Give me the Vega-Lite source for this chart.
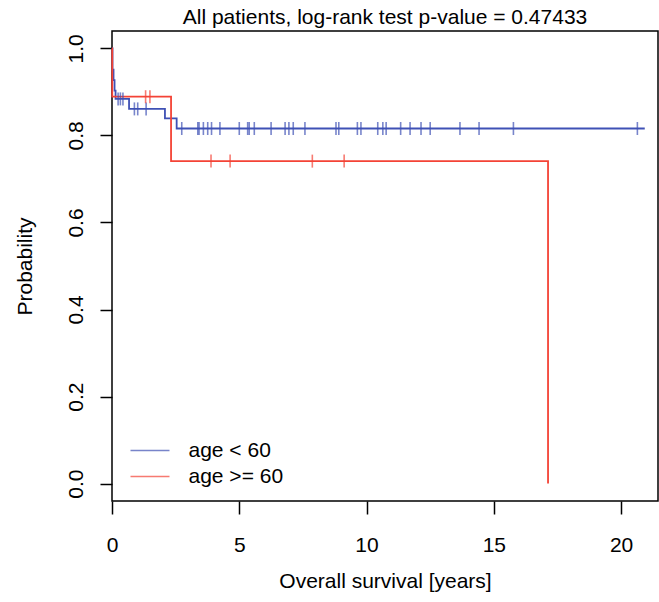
{
  "$schema": "https://vega.github.io/schema/vega-lite/v6.json",
  "autosize": "none",
  "width": 546,
  "height": 470,
  "padding": {"left": 112, "top": 31, "right": 1, "bottom": 101},
  "background": "white",
  "title": {"text": "All patients, log-rank test p-value = 0.47433", "font": "Liberation Sans", "fontSize": 21, "fontWeight": "normal", "color": "black", "anchor": "middle", "offset": 3},
  "config": {
    "view": {"stroke": "black", "strokeWidth": 1.5},
    "axis": {"grid": false, "domain": false, "tickColor": "black", "tickWidth": 1.5, "labelFont": "Liberation Sans", "labelFontSize": 21, "labelColor": "black", "titleFont": "Liberation Sans", "titleFontSize": 21, "titleFontWeight": "normal", "titleColor": "black", "labelFlush": false, "labelOverlap": false, "labelBound": false},
    "legend": {"orient": "none", "legendX": 27.5, "legendY": 409, "padding": 0, "symbolType": "M-2,0H2", "symbolSize": 380, "symbolStrokeWidth": 1.5, "labelFont": "Liberation Sans", "labelFontSize": 21, "labelColor": "black", "labelOffset": 28, "rowPadding": 4}
  },
  "datasets": {
    "curves": [
      {"group": "age < 60", "t": 0, "surv": 1.0},
      {"group": "age < 60", "t": 0.02, "surv": 0.951},
      {"group": "age < 60", "t": 0.06, "surv": 0.927},
      {"group": "age < 60", "t": 0.10, "surv": 0.903},
      {"group": "age < 60", "t": 0.14, "surv": 0.884},
      {"group": "age < 60", "t": 0.67, "surv": 0.861},
      {"group": "age < 60", "t": 2.08, "surv": 0.839},
      {"group": "age < 60", "t": 2.54, "surv": 0.816},
      {"group": "age < 60", "t": 20.93, "surv": 0.816},
      {"group": "age >= 60", "t": 0, "surv": 1.0},
      {"group": "age >= 60", "t": 0.01, "surv": 0.889},
      {"group": "age >= 60", "t": 2.32, "surv": 0.741},
      {"group": "age >= 60", "t": 17.13, "surv": 0.0}
    ],
    "censors": [
      {"group": "age < 60", "t": 0.24, "surv": 0.884},
      {"group": "age < 60", "t": 0.33, "surv": 0.884},
      {"group": "age < 60", "t": 0.43, "surv": 0.884},
      {"group": "age < 60", "t": 0.88, "surv": 0.861},
      {"group": "age < 60", "t": 1.01, "surv": 0.861},
      {"group": "age < 60", "t": 1.34, "surv": 0.861},
      {"group": "age < 60", "t": 2.74, "surv": 0.816},
      {"group": "age < 60", "t": 3.37, "surv": 0.816},
      {"group": "age < 60", "t": 3.42, "surv": 0.816},
      {"group": "age < 60", "t": 3.59, "surv": 0.816},
      {"group": "age < 60", "t": 3.76, "surv": 0.816},
      {"group": "age < 60", "t": 3.91, "surv": 0.816},
      {"group": "age < 60", "t": 4.24, "surv": 0.816},
      {"group": "age < 60", "t": 5.00, "surv": 0.816},
      {"group": "age < 60", "t": 5.33, "surv": 0.816},
      {"group": "age < 60", "t": 5.39, "surv": 0.816},
      {"group": "age < 60", "t": 5.59, "surv": 0.816},
      {"group": "age < 60", "t": 6.25, "surv": 0.816},
      {"group": "age < 60", "t": 6.80, "surv": 0.816},
      {"group": "age < 60", "t": 6.95, "surv": 0.816},
      {"group": "age < 60", "t": 7.12, "surv": 0.816},
      {"group": "age < 60", "t": 7.58, "surv": 0.816},
      {"group": "age < 60", "t": 8.80, "surv": 0.816},
      {"group": "age < 60", "t": 8.91, "surv": 0.816},
      {"group": "age < 60", "t": 9.64, "surv": 0.816},
      {"group": "age < 60", "t": 9.78, "surv": 0.816},
      {"group": "age < 60", "t": 10.44, "surv": 0.816},
      {"group": "age < 60", "t": 10.64, "surv": 0.816},
      {"group": "age < 60", "t": 10.77, "surv": 0.816},
      {"group": "age < 60", "t": 11.34, "surv": 0.816},
      {"group": "age < 60", "t": 11.71, "surv": 0.816},
      {"group": "age < 60", "t": 12.14, "surv": 0.816},
      {"group": "age < 60", "t": 12.50, "surv": 0.816},
      {"group": "age < 60", "t": 13.67, "surv": 0.816},
      {"group": "age < 60", "t": 14.42, "surv": 0.816},
      {"group": "age < 60", "t": 15.77, "surv": 0.816},
      {"group": "age < 60", "t": 20.64, "surv": 0.816},
      {"group": "age >= 60", "t": 1.32, "surv": 0.889},
      {"group": "age >= 60", "t": 1.49, "surv": 0.889},
      {"group": "age >= 60", "t": 3.89, "surv": 0.741},
      {"group": "age >= 60", "t": 4.64, "surv": 0.741},
      {"group": "age >= 60", "t": 7.87, "surv": 0.741},
      {"group": "age >= 60", "t": 9.12, "surv": 0.741}
    ]
  },
  "encoding": {
    "x": {"field": "t", "type": "quantitative",
      "scale": {"domain": [0, 21.45], "nice": false, "zero": false},
      "axis": {"values": [0, 5, 10, 15, 20], "title": "Overall survival [years]", "tickSize": 13, "labelPadding": 20, "titlePadding": 15}},
    "y": {"field": "surv", "type": "quantitative",
      "scale": {"domain": [-0.04, 1.04], "nice": false, "zero": false},
      "axis": {"values": [0, 0.2, 0.4, 0.6, 0.8, 1.0], "format": ".1f", "title": "Probability", "tickSize": 12, "labelAngle": -90, "labelAlign": "center", "labelBaseline": "alphabetic", "labelPadding": 18, "titlePadding": 30}},
    "color": {"field": "group", "type": "nominal",
      "scale": {"domain": ["age < 60", "age >= 60"], "range": ["#3F51B5", "#F44336"]},
      "legend": {"title": null}}
  },
  "layer": [
    {"data": {"name": "curves"}, "mark": {"type": "line", "interpolate": "step-after", "strokeWidth": 1.8}},
    {"data": {"name": "censors"}, "mark": {"type": "tick", "orient": "vertical", "size": 13, "thickness": 1.6}}
  ]
}
